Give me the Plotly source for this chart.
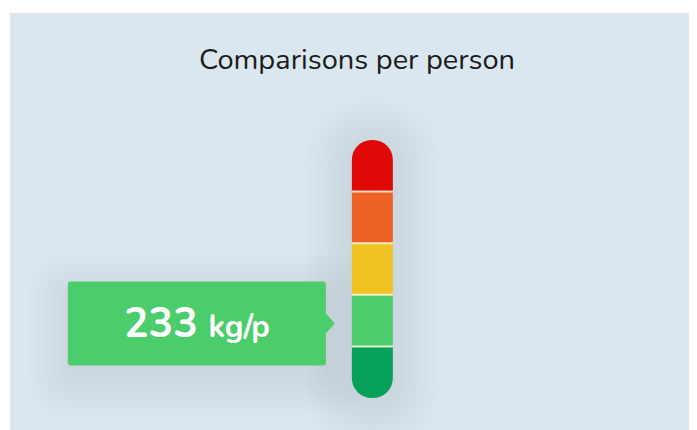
import plotly.graph_objects as go

# ---- data ----
levels = ["Very high", "High", "Medium", "Low", "Very low"]  # top to bottom
level_colors = ["#df0707", "#ee6228", "#f0c322", "#4ccd6c", "#07a05a"]
segment_sizes = [1, 1, 1, 1, 1]
value = 233
unit = "kg/p"
active_level = "Low"
title_text = "Comparisons per person"

# ---- geometry helpers ----
def rrect(x0, y0, x1, y1, r):
    return (f"M {x0+r},{y1} L {x1-r},{y1} Q {x1},{y1} {x1},{y1-r} "
            f"L {x1},{y0+r} Q {x1},{y0} {x1-r},{y0} L {x0+r},{y0} "
            f"Q {x0},{y0} {x0},{y0+r} L {x0},{y1-r} Q {x0},{y1} {x0+r},{y1} Z")

fig = go.Figure()

# bottom segment drawn downward from 0, the rest stacked upward (relative mode)
bottom_up = list(zip(levels, level_colors, segment_sizes))[::-1]
n = len(bottom_up)
seg_centers = {}
boundaries = []
name0, col0, size0 = bottom_up[0]
fig.add_trace(go.Bar(x=[0], y=[-size0], width=1, marker=dict(color=col0, line=dict(width=0)),
                     name=name0, hoverinfo="skip"))
seg_centers[name0] = -size0 / 2
bottom = -size0
base = 0
boundaries.append(0)
for i, (name, col, size) in enumerate(bottom_up[1:], start=1):
    fig.add_trace(go.Bar(x=[0], y=[size], width=1, marker=dict(color=col, line=dict(width=0)),
                         name=name, hoverinfo="skip"))
    seg_centers[name] = base + size / 2
    base += size
    if i < n - 1:
        boundaries.append(base)
top = base
mid = (top + bottom) / 2

shapes = []
# soft shadow around the bar
for k in range(16):
    g = 2 + k * 3
    shapes.append(dict(type="path", xref="x", yref="y", xsizemode="pixel", ysizemode="pixel",
                       xanchor=0, yanchor=mid,
                       path=rrect(-21 - g, -129 - g - 4, 21 + g, 129 + g - 4, 21 + g),
                       fillcolor="rgba(70,80,90,0.009)", line=dict(width=0), layer="below"))

# separators
for b in boundaries:
    shapes.append(dict(type="line", xref="x", yref="y", x0=-0.5, x1=0.5, y0=b, y1=b,
                       line=dict(color="rgba(255,248,220,0.85)", width=2), layer="above"))

cy = seg_centers[active_level]
L, R, T, B = -284, -26, 39, -45
# callout shadow
for k in range(14):
    g = 2 + k * 3
    shapes.append(dict(type="path", xref="x", yref="y", xsizemode="pixel", ysizemode="pixel",
                       xanchor=-0.5, yanchor=cy,
                       path=rrect(L - g, B - g - 12, R + g, T + g - 12, 4 + g),
                       fillcolor="rgba(70,80,90,0.008)", line=dict(width=0), layer="below"))
# callout box with tail
r = 3
callout = (f"M {L+r},{T} L {R-r},{T} Q {R},{T} {R},{T-r} L {R},7 L -17,-3 L {R},-13 "
           f"L {R},{B+r} Q {R},{B} {R-r},{B} L {L+r},{B} Q {L},{B} {L},{B+r} "
           f"L {L},{T-r} Q {L},{T} {L+r},{T} Z")
shapes.append(dict(type="path", xref="x", yref="y", xsizemode="pixel", ysizemode="pixel",
                   xanchor=-0.5, yanchor=cy, path=callout,
                   fillcolor="#4ccd6c", line=dict(width=0), layer="above"))

# figure sits at an 8px page offset; 687x417 plot area from (10,13) on screen
fig.update_layout(
    width=689, height=422,
    margin=dict(l=2, r=0, t=5, b=0),
    paper_bgcolor="white", plot_bgcolor="#dae7ee",
    barmode="relative", barcornerradius="50%", showlegend=False,
    xaxis=dict(range=[-8.84, 7.92], visible=False, fixedrange=True),
    yaxis=dict(range=[bottom - 0.62, top + 2.46], visible=False, fixedrange=True),
    shapes=shapes,
    title=dict(text=title_text, xref="container", x=(357 - 8) / 689, xanchor="center",
               yref="container", y=1 - (59 - 8) / 422, yanchor="middle",
               font=dict(family="Nunito, Lato, sans-serif", size=29, color="#1c1c1c")),
    annotations=[dict(x=-0.5, y=cy, xref="x", yref="y", xshift=(L + R) / 2, yshift=-3,
                      xanchor="center", yanchor="middle", showarrow=False,
                      text=f"<b>{value}</b> <b><span style='font-size:31px'>{unit}</span></b>",
                      font=dict(family="Nunito, Lato, sans-serif", size=41, color="white"))],
)

fig.write_html("out.html")
